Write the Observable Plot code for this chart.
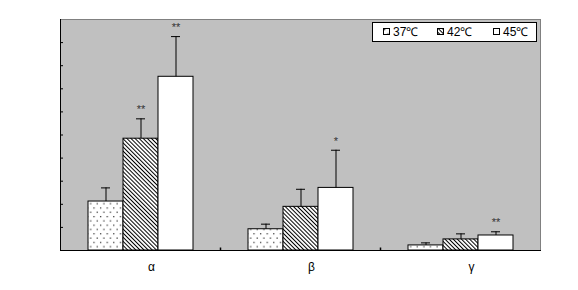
<!DOCTYPE html>
<html><head><meta charset="utf-8">
<script src="https://cdn.jsdelivr.net/npm/d3@7"></script>
<script src="https://cdn.jsdelivr.net/npm/@observablehq/plot@0.6"></script>
<style>
body{margin:0;background:#fff;font-family:"Liberation Sans",Arial,sans-serif}
#wrap{position:relative;width:578px;height:290px}
#legend{position:absolute;left:372px;top:22px;width:163px;height:18px;border:1px solid #000;background:#fff;font-size:12px}
#legend .it{position:absolute;top:0;height:18px;line-height:18px;white-space:nowrap}
#legend svg{vertical-align:middle;margin-right:3px;position:relative;top:-1px}
</style>
</head><body>
<svg width="0" height="0" style="position:absolute">
<defs>
<pattern id="dots" width="6.6" height="8.6" patternUnits="userSpaceOnUse">
<rect width="6.6" height="8.6" fill="#fff"/>
<rect x="1" y="1" width="1.2" height="1.2" fill="#222"/>
<rect x="4.3" y="5.3" width="1.2" height="1.2" fill="#222"/>
</pattern>
<pattern id="hatch" width="2.9" height="2.9" patternUnits="userSpaceOnUse" patternTransform="rotate(-45)">
<rect width="2.9" height="2.9" fill="#fff"/>
<rect x="0" y="0" width="1" height="2.9" fill="#000"/>
</pattern>
</defs>
</svg>
<div id="wrap"></div>
<script>
const groups = ["α", "β", "γ"];
const temps = ["37℃", "42℃", "45℃"];
const mean37 = [2.12, 0.92, 0.22];
const mean42 = [4.84, 1.89, 0.48];
const mean45 = [7.52, 2.71, 0.65];
const err37 = [0.59, 0.22, 0.11];
const err42 = [0.86, 0.76, 0.24];
const err45 = [1.74, 1.63, 0.16];
const sig37 = ["", "", ""];
const sig42 = ["**", "", ""];
const sig45 = ["**", "*", "**"];
const yTicks = [0, 1, 2, 3, 4, 5, 6, 7, 8, 9, 10];

const means = [mean37, mean42, mean45];
const errs = [err37, err42, err45];
const sigs = [sig37, sig42, sig45];
const data = groups.flatMap((g, i) => temps.map((t, j) => ({
  group: g, temp: t, mean: means[j][i], err: errs[j][i], sig: sigs[j][i]
})));

const tickUp = {draw(ctx) { ctx.moveTo(0, 0); ctx.lineTo(0, -3); }};

const plot = Plot.plot({
  width: 578, height: 290,
  marginLeft: 60, marginRight: 38, marginTop: 19, marginBottom: 40,
  style: {fontFamily: "'Liberation Sans', Arial, sans-serif", fontSize: "12px", background: "transparent", color: "#000"},
  fx: {domain: groups, padding: 0, label: null},
  x: {domain: temps, paddingInner: 0, paddingOuter: 0.74, axis: null},
  y: {domain: [0, 10], axis: null},
  color: {domain: temps, range: ["url(#dots)", "url(#hatch)", "#fff"]},
  marks: [
    Plot.frame({fill: "#c0c0c0", facet: "super"}),
    Plot.axisY(yTicks, {anchor: "left", tickSize: -3, tickFormat: () => "", label: null, stroke: "#000"}),
    Plot.axisFx({anchor: "bottom", tickSize: 0, tickPadding: 12, dx: 11, label: null, fontSize: 12}),
    Plot.barY(data, {fx: "group", x: "temp", y: "mean", fill: "temp", stroke: "#000", strokeWidth: 1}),
    Plot.ruleX(data, {fx: "group", x: "temp", y1: "mean", y2: d => d.mean + d.err, stroke: "#000", strokeWidth: 1}),
    Plot.tickY(data, {fx: "group", x: "temp", y: d => d.mean + d.err, insetLeft: 13, insetRight: 13, stroke: "#000", strokeWidth: 1}),
    Plot.text(data, {fx: "group", x: "temp", y: d => d.mean + d.err, text: "sig", dy: -9, fontSize: 11, fill: "#333"}),
    Plot.dot(["β", "γ"], {fx: d => d, frameAnchor: "bottom-left", symbol: tickUp, fill: "none", stroke: "#000"}),
    Plot.frame({facet: "super", anchor: "top", stroke: "#808080"}),
    Plot.frame({facet: "super", anchor: "right", stroke: "#808080"}),
    Plot.frame({facet: "super", anchor: "left", stroke: "#000"}),
    Plot.frame({facet: "super", anchor: "bottom", stroke: "#000"})
  ]
});
const wrap = document.getElementById("wrap");
wrap.appendChild(plot);

const legend = document.createElement("div");
legend.id = "legend";
const swFill = ["url(#dots)", "url(#hatch)", "#fff"];
const swLeft = [10, 64, 120];
temps.forEach((t, j) => {
  const it = document.createElement("span");
  it.className = "it";
  it.style.left = swLeft[j] + "px";
  it.innerHTML = `<svg width="7" height="7"><rect x="0.5" y="0.5" width="6" height="6" fill="${swFill[j]}" stroke="#000"/></svg>`;
  it.appendChild(document.createTextNode(t));
  legend.appendChild(it);
});
wrap.appendChild(legend);
</script>
</body></html>
